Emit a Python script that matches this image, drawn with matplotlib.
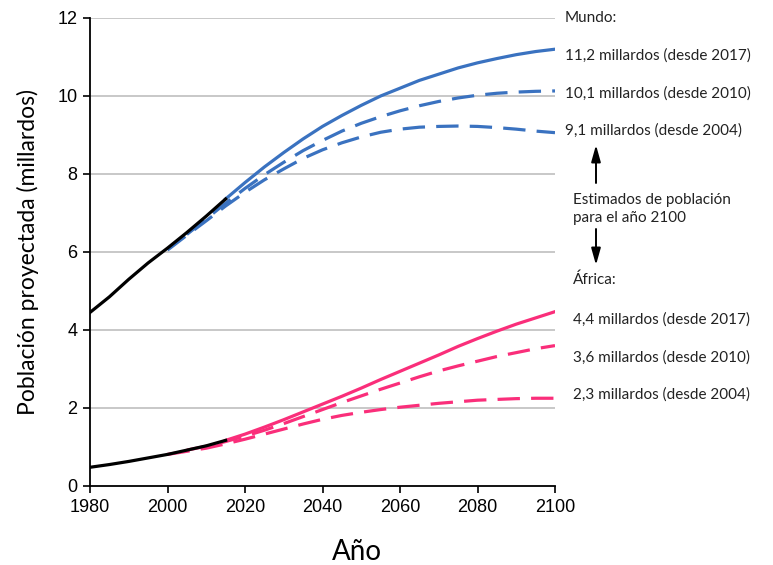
import matplotlib
matplotlib.use('Agg')
import matplotlib.pyplot as plt
from matplotlib.patches import FancyArrowPatch

# historical (black)
world_hist_years = [1980, 1985, 1990, 1995, 2000, 2005, 2010, 2015]
world_hist = [4.45, 4.85, 5.3, 5.72, 6.1, 6.5, 6.92, 7.36]
africa_hist_years = [1980, 1985, 1990, 1995, 2000, 2005, 2010, 2015]
africa_hist = [0.48, 0.55, 0.63, 0.72, 0.81, 0.92, 1.03, 1.17]

# world projections
w17_years = [2015, 2020, 2025, 2030, 2035, 2040, 2045, 2050, 2055, 2060,
             2065, 2070, 2075, 2080, 2085, 2090, 2095, 2100]
w17 = [7.36, 7.78, 8.18, 8.55, 8.9, 9.22, 9.5, 9.76, 10.0, 10.2,
       10.4, 10.56, 10.72, 10.85, 10.96, 11.06, 11.14, 11.2]
w10_years = [2005, 2010, 2015, 2020, 2025, 2030, 2035, 2040, 2045, 2050,
             2055, 2060, 2065, 2070, 2075, 2080, 2085, 2090, 2095, 2100]
w10 = [6.45, 6.85, 7.25, 7.63, 7.98, 8.3, 8.6, 8.86, 9.1, 9.3,
       9.47, 9.62, 9.75, 9.86, 9.95, 10.02, 10.07, 10.1, 10.12, 10.13]
w04_years = [2000, 2005, 2010, 2015, 2020, 2025, 2030, 2035, 2040, 2045,
             2050, 2055, 2060, 2065, 2070, 2075, 2080, 2085, 2090, 2095, 2100]
w04 = [6.05, 6.43, 6.8, 7.18, 7.53, 7.85, 8.13, 8.4, 8.62, 8.8,
       8.95, 9.07, 9.15, 9.2, 9.22, 9.23, 9.22, 9.19, 9.15, 9.1, 9.06]

# africa projections
a17_years = [2015, 2020, 2025, 2030, 2035, 2040, 2045, 2050, 2055, 2060,
             2065, 2070, 2075, 2080, 2085, 2090, 2095, 2100]
a17 = [1.17, 1.33, 1.51, 1.7, 1.9, 2.1, 2.3, 2.51, 2.73, 2.94,
       3.15, 3.36, 3.58, 3.78, 3.97, 4.15, 4.31, 4.47]
a10_years = [2005, 2010, 2015, 2020, 2025, 2030, 2035, 2040, 2045, 2050,
             2055, 2060, 2065, 2070, 2075, 2080, 2085, 2090, 2095, 2100]
a10 = [0.92, 1.02, 1.14, 1.28, 1.43, 1.6, 1.78, 1.96, 2.14, 2.31,
       2.48, 2.64, 2.8, 2.95, 3.08, 3.2, 3.32, 3.42, 3.52, 3.6]
a04_years = [2000, 2005, 2010, 2015, 2020, 2025, 2030, 2035, 2040, 2045,
             2050, 2055, 2060, 2065, 2070, 2075, 2080, 2085, 2090, 2095, 2100]
a04 = [0.81, 0.89, 0.97, 1.08, 1.2, 1.33, 1.46, 1.59, 1.71, 1.81,
       1.89, 1.96, 2.02, 2.07, 2.12, 2.16, 2.2, 2.22, 2.24, 2.25, 2.25]

world_labels = ["11,2 millardos (desde 2017)", "10,1 millardos (desde 2010)",
                "9,1 millardos (desde 2004)"]
africa_labels = ["4,4 millardos (desde 2017)", "3,6 millardos (desde 2010)",
                 "2,3 millardos (desde 2004)"]

BLUE = "#3A72C0"
PINK = "#FA2E7A"
LW = 2.3
DASH = (0, (7, 3.5))

fig = plt.figure(figsize=(7.73, 5.65), dpi=100)
ax = fig.add_axes([90 / 773, 1 - 486 / 565, 465 / 773, 468 / 565])

ax.plot(w04_years, w04, color=BLUE, lw=LW, linestyle=DASH)
ax.plot(w10_years, w10, color=BLUE, lw=LW, linestyle=DASH)
ax.plot(w17_years, w17, color=BLUE, lw=LW)
ax.plot(a04_years, a04, color=PINK, lw=LW, linestyle=DASH)
ax.plot(a10_years, a10, color=PINK, lw=LW, linestyle=DASH)
ax.plot(a17_years, a17, color=PINK, lw=LW)
ax.plot(world_hist_years, world_hist, color="black", lw=LW)
ax.plot(africa_hist_years, africa_hist, color="black", lw=LW)

ax.set_xlim(1980, 2100)
ax.set_ylim(0, 12)
ax.set_xticks(range(1980, 2101, 20))
ax.set_yticks(range(0, 13, 2))
for y in range(2, 13, 2):
    ax.axhline(y, color="#c4c4c4", lw=1.3, zorder=0)

for s in ["top", "right"]:
    ax.spines[s].set_visible(False)
ax.spines["left"].set_linewidth(1.3)
ax.spines["bottom"].set_linewidth(1.3)
ax.tick_params(axis="both", direction="out", length=5, width=1.2,
               labelsize=13, pad=4)
for lab in ax.get_xticklabels() + ax.get_yticklabels():
    lab.set_family("Liberation Sans")


def px(x, y):
    return x / 773, 1 - y / 565


fig.text(*px(357, 552), "Año", fontsize=20, family="Lato", ha="center", va="center")
fig.text(*px(28, 252), "Población proyectada (millardos)", fontsize=16.5,
         family="Lato", rotation=90, ha="center", va="center")

tk = dict(fontsize=11, family="Lato", va="center", ha="left", color="#222222")
fig.text(*px(565, 18), "Mundo:", **tk)
for y, t in zip([56, 94, 131], world_labels):
    fig.text(*px(565, y), t, **tk)
fig.text(*px(573, 200), "Estimados de población", **tk)
fig.text(*px(573, 218), "para el año 2100", **tk)
fig.text(*px(573, 280), "África:", **tk)
for y, t in zip([320, 358, 395], africa_labels):
    fig.text(*px(573, y), t, **tk)

ap = dict(arrowstyle="-|>,head_length=0.5,head_width=0.14", color="black",
          lw=1.4, mutation_scale=20, shrinkA=0, shrinkB=0,
          transform=fig.transFigure)
fig.add_artist(FancyArrowPatch(px(596, 183), px(596, 145), **ap))
fig.add_artist(FancyArrowPatch(px(596, 229), px(596, 265), **ap))

fig.savefig("out.png", dpi=100)
